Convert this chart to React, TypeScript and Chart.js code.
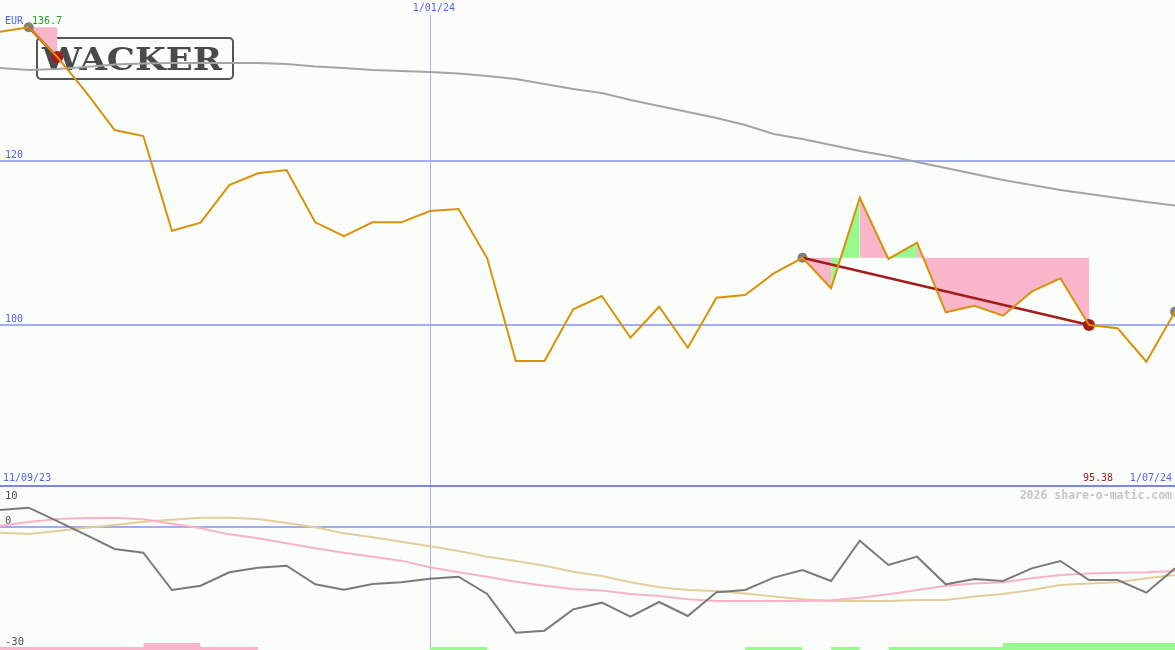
import React, { useEffect, useRef } from "react";
import { Chart, registerables } from "chart.js";

Chart.register(...registerables);

// ---------- DATA ----------
const weekCount = 42;
const dateMarkerIndex = 15; // 1/01/24
const startDateLabel = "11/09/23";
const endDateLabel = "1/07/24";
const markerDateLabel = "1/01/24";
const currencyLabel = "EUR";
const maxPriceLabel = "136.7";
const minPriceLabel = "95.38";
const creditLabel = "2026 share-o-matic.com";
const logoText = "WACKER";

const priceGridLevels = [100, 120];
const oscillatorZeroLevel = 0;
const oscillatorTickLabels = ["10", "0", "-30"];

const priceWeekly = [
  135.77, 136.3, 132.68, 128.41, 123.78, 123.05, 111.5, 112.48, 117.07, 118.5,
  118.9, 112.52, 110.85, 112.52, 112.52, 113.9, 114.15, 108.13, 95.6, 95.6,
  101.91, 103.54, 98.45, 102.23, 97.23, 103.33, 103.66, 106.3, 108.2, 104.48,
  115.52, 108.05, 110.04, 101.55, 102.35, 101.13, 104.06, 105.7, 100.0, 99.6,
  95.52, 101.62,
];

const movingAverage = [
  131.34, 131.1, 131.22, 131.46, 131.77, 131.89, 131.95, 131.95, 131.95, 131.95,
  131.83, 131.52, 131.34, 131.1, 130.98, 130.85, 130.67, 130.37, 130.0, 129.39,
  128.78, 128.29, 127.44, 126.71, 125.98, 125.24, 124.39, 123.29, 122.68, 121.95,
  121.22, 120.61, 119.88, 119.15, 118.41, 117.68, 117.07, 116.46, 115.98, 115.49,
  115.0, 114.57,
];

const oscillator = [
  4.28, 4.85, 1.5, -2.0, -5.53, -6.46, -15.85, -14.76, -11.4, -10.23,
  -9.73, -14.4, -15.77, -14.34, -13.92, -13.0, -12.5, -16.85, -26.58, -26.07,
  -20.71, -19.03, -22.55, -18.86, -22.38, -16.43, -15.85, -12.74, -10.81, -13.58,
  -3.44, -9.56, -7.46, -14.42, -13.08, -13.58, -10.4, -8.55, -13.33, -13.33,
  -16.51, -10.4,
];

const oscillatorAverage = [
  0.33, 1.26, 2.0, 2.26, 2.34, 1.93, 0.84, -0.34, -1.85, -2.85,
  -4.1, -5.36, -6.45, -7.46, -8.46, -10.1, -11.4, -12.5, -13.75, -14.75,
  -15.6, -16.0, -16.85, -17.35, -18.2, -18.6, -18.6, -18.6, -18.6, -18.45,
  -17.77, -16.94, -15.85, -14.75, -14.2, -13.9, -12.9, -12.07, -11.7, -11.5,
  -11.4, -11.07,
];

const oscillatorSignal = [
  -1.43, -1.76, -1.0, -0.17, 0.5, 1.34, 1.85, 2.34, 2.34, 2.0,
  1.0, -0.08, -1.6, -2.6, -3.7, -4.86, -6.04, -7.46, -8.55, -9.73,
  -11.24, -12.3, -13.9, -15.17, -15.85, -16.1, -16.7, -17.5, -18.2, -18.6,
  -18.6, -18.6, -18.36, -18.36, -17.5, -16.85, -15.85, -14.6, -14.2, -13.9,
  -12.9, -12.07,
];

// closed signals: start week, end week, and per-segment rising flags
const signalStarts = [1, 28];
const signalEnds = [2, 38];
const signalSegmentRising = [
  [false],
  [false, true, false, true, false, false, false, false, false, false],
];
const openSignalStarts = [41];

// bottom signal bars [fromWeek, toWeek]
const sellBarsWeak = [[0, 9]];
const sellBarsStrong = [[5, 7]];
const buyBarsWeak = [[15, 17], [26, 28], [29, 30], [31, 35]];
const buyBarsStrong = [[35, 41]];
const weakBarLevel = -30.18;
const strongBarLevel = -29.18;

// ---------- STYLE ----------
const BG = "#fbfdfa";
const BLUE_TEXT = "#5563ee";
const GRID_BLUE = "#a3acf2";
const AXIS_BLUE = "#7a86ea";
const VLINE = "#aab1ee";
const PRICE = "#d8920a";
const MA_GRAY = "#a4a4a4";
const TREND_RED = "#a51c1c";
const DOT_GRAY = "#808080";
const FILL_DOWN = "#f9b5c9";
const FILL_UP = "#98f98f";
const MONO = '"DejaVu Sans Mono", "Liberation Mono", monospace';

const W = 1175;
const MAIN_H = 488;
const LOW_H = 162;

const xy = (arr: number[]) => arr.map((v, i) => ({ x: i, y: v }));

const bgPlugin = {
  id: "bgfill",
  beforeDraw(chart: any) {
    const { ctx } = chart;
    ctx.save();
    ctx.fillStyle = BG;
    ctx.fillRect(0, 0, chart.width, chart.height);
    ctx.restore();
  },
};

const mainDecor = {
  id: "mainDecor",
  beforeDatasetsDraw(chart: any) {
    const { ctx, scales } = chart;
    const xs = scales.x;
    const ys = scales.y;
    ctx.save();
    // horizontal grid
    ctx.strokeStyle = GRID_BLUE;
    ctx.lineWidth = 2;
    priceGridLevels.forEach((lv) => {
      const y = Math.round(ys.getPixelForValue(lv));
      ctx.beginPath();
      ctx.moveTo(0, y);
      ctx.lineTo(chart.width, y);
      ctx.stroke();
    });
    // vertical date marker
    const vx = Math.round(xs.getPixelForValue(dateMarkerIndex)) + 0.5;
    ctx.strokeStyle = VLINE;
    ctx.lineWidth = 1;
    ctx.beginPath();
    ctx.moveTo(vx, 15);
    ctx.lineTo(vx, chart.height);
    ctx.stroke();
    // logo
    ctx.strokeStyle = "#555555";
    ctx.lineWidth = 2;
    ctx.beginPath();
    (ctx as any).roundRect(37, 38, 196, 41, 4);
    ctx.stroke();
    ctx.fillStyle = "#4a4a4a";
    ctx.font = 'bold 31px "DejaVu Serif", "Liberation Serif", serif';
    ctx.textBaseline = "alphabetic";
    ctx.textAlign = "left";
    const tw = ctx.measureText(logoText).width;
    ctx.translate(42, 70);
    ctx.scale(180 / tw, 1);
    ctx.fillText(logoText, 0, 0);
    ctx.restore();
    // bottom axis line
    ctx.save();
    ctx.strokeStyle = AXIS_BLUE;
    ctx.lineWidth = 2;
    ctx.beginPath();
    ctx.moveTo(0, chart.height - 2);
    ctx.lineTo(chart.width, chart.height - 2);
    ctx.stroke();
    ctx.restore();
  },
  afterDatasetsDraw(chart: any) {
    const { ctx, scales } = chart;
    const xs = scales.x;
    const ys = scales.y;
    ctx.save();
    ctx.font = `10px ${MONO}`;
    ctx.textBaseline = "middle";
    ctx.textAlign = "left";
    ctx.fillStyle = BLUE_TEXT;
    ctx.fillText(currencyLabel, 5, 21);
    ctx.fillStyle = "#22a022";
    ctx.fillText(maxPriceLabel, 32, 21);
    ctx.fillStyle = BLUE_TEXT;
    priceGridLevels.forEach((lv) => {
      ctx.fillText(String(lv), 5, ys.getPixelForValue(lv) - 5.5);
    });
    ctx.textAlign = "center";
    ctx.fillText(markerDateLabel, xs.getPixelForValue(dateMarkerIndex) + 4, 8.5);
    ctx.textAlign = "left";
    ctx.fillText(startDateLabel, 3, 478.5);
    ctx.textAlign = "right";
    ctx.fillText(endDateLabel, 1172, 478.5);
    ctx.fillStyle = TREND_RED;
    ctx.fillText(minPriceLabel, 1113, 478.5);
    ctx.restore();
  },
};

const lowDecor = {
  id: "lowDecor",
  beforeDatasetsDraw(chart: any) {
    const { ctx, scales } = chart;
    const xs = scales.x;
    const ys = scales.y;
    ctx.save();
    const zy = Math.round(ys.getPixelForValue(oscillatorZeroLevel));
    ctx.strokeStyle = GRID_BLUE;
    ctx.lineWidth = 2;
    ctx.beginPath();
    ctx.moveTo(0, zy);
    ctx.lineTo(chart.width, zy);
    ctx.stroke();
    const vx = Math.round(xs.getPixelForValue(dateMarkerIndex)) + 0.5;
    ctx.strokeStyle = VLINE;
    ctx.lineWidth = 1;
    ctx.beginPath();
    ctx.moveTo(vx, 0);
    ctx.lineTo(vx, chart.height);
    ctx.stroke();
    ctx.font = `bold 11.5px ${MONO}`;
    ctx.fillStyle = "#c6c6c6";
    ctx.textAlign = "right";
    ctx.textBaseline = "middle";
    ctx.fillText(creditLabel, 1172, 8);
    ctx.font = `10.5px ${MONO}`;
    ctx.fillStyle = "#505050";
    ctx.textAlign = "left";
    ctx.fillText(oscillatorTickLabels[0], 5, 8);
    ctx.fillText(oscillatorTickLabels[1], 5, zy - 6);
    ctx.fillText(oscillatorTickLabels[2], 5, chart.height - 8);
    ctx.restore();
  },
};

function baseOptions(yMin: number, yMax: number): any {
  return {
    responsive: false,
    animation: false,
    devicePixelRatio: 1,
    events: [],
    layout: { padding: 0, autoPadding: false },
    plugins: { legend: { display: false }, tooltip: { enabled: false } },
    scales: {
      x: { type: "linear", min: 0, max: weekCount - 1, display: false },
      y: { type: "linear", min: yMin, max: yMax, display: false },
    },
    elements: { line: { tension: 0 }, point: { radius: 0 } },
  };
}

export default function App() {
  const mainRef = useRef<HTMLCanvasElement>(null);
  const lowRef = useRef<HTMLCanvasElement>(null);

  useEffect(() => {
    const datasets: any[] = [];
    // signal fills
    signalStarts.forEach((s, k) => {
      const e = signalEnds[k];
      const pts: any[] = [];
      for (let i = s; i <= e; i++) pts.push({ x: i, y: priceWeekly[i] });
      datasets.push({
        type: "line",
        data: pts,
        borderColor: "rgba(0,0,0,0)",
        borderWidth: 0,
        pointRadius: 0,
        fill: { value: priceWeekly[s] },
        backgroundColor: FILL_DOWN,
        segment: {
          backgroundColor: (c: any) =>
            signalSegmentRising[k][c.p0DataIndex] ? FILL_UP : FILL_DOWN,
        },
        order: 10,
      });
    });
    datasets.push({
      type: "line",
      data: xy(movingAverage),
      borderColor: MA_GRAY,
      borderWidth: 2,
      pointRadius: 0,
      fill: false,
      order: 9,
    });
    // dots
    const dotPts: any[] = [];
    const dotColors: string[] = [];
    const dotRadii: number[] = [];
    signalStarts.forEach((s) => {
      dotPts.push({ x: s, y: priceWeekly[s] });
      dotColors.push(DOT_GRAY);
      dotRadii.push(5);
    });
    openSignalStarts.forEach((s) => {
      dotPts.push({ x: s, y: priceWeekly[s] });
      dotColors.push(DOT_GRAY);
      dotRadii.push(5);
    });
    signalEnds.forEach((s) => {
      dotPts.push({ x: s, y: priceWeekly[s] });
      dotColors.push(TREND_RED);
      dotRadii.push(6);
    });
    datasets.push({
      type: "line",
      data: dotPts,
      showLine: false,
      pointRadius: dotRadii,
      pointBackgroundColor: dotColors,
      pointBorderWidth: 0,
      pointBorderColor: dotColors,
      order: 5,
    });
    // trend lines
    signalStarts.forEach((s, k) => {
      const e = signalEnds[k];
      datasets.push({
        type: "line",
        data: [
          { x: s, y: priceWeekly[s] },
          { x: e, y: priceWeekly[e] },
        ],
        borderColor: TREND_RED,
        borderWidth: 2.5,
        pointRadius: 0,
        fill: false,
        order: 3,
      });
    });
    datasets.push({
      type: "line",
      data: xy(priceWeekly),
      borderColor: PRICE,
      borderWidth: 2,
      pointRadius: 0,
      fill: false,
      order: 0,
    });

    const mainChart = new Chart(mainRef.current as HTMLCanvasElement, {
      type: "line",
      data: { datasets },
      options: baseOptions(80.122, 139.634),
      plugins: [bgPlugin, mainDecor],
    } as any);

    const lowSets: any[] = [];
    const addBars = (ranges: number[][], level: number, color: string) => {
      ranges.forEach(([a, b]) => {
        lowSets.push({
          type: "line",
          data: [
            { x: a, y: level },
            { x: b, y: level },
          ],
          borderColor: "rgba(0,0,0,0)",
          borderWidth: 0,
          pointRadius: 0,
          backgroundColor: color,
          fill: "start",
          order: 10,
        });
      });
    };
    addBars(sellBarsWeak, weakBarLevel, FILL_DOWN);
    addBars(sellBarsStrong, strongBarLevel, FILL_DOWN);
    addBars(buyBarsWeak, weakBarLevel, FILL_UP);
    addBars(buyBarsStrong, strongBarLevel, FILL_UP);
    lowSets.push({
      type: "line",
      data: xy(oscillatorSignal),
      borderColor: "#e3cd9b",
      borderWidth: 2,
      pointRadius: 0,
      fill: false,
      order: 4,
    });
    lowSets.push({
      type: "line",
      data: xy(oscillatorAverage),
      borderColor: "#f9b2c8",
      borderWidth: 2,
      pointRadius: 0,
      fill: false,
      order: 3,
    });
    lowSets.push({
      type: "line",
      data: xy(oscillator),
      borderColor: "#7a7a7a",
      borderWidth: 2,
      pointRadius: 0,
      fill: false,
      order: 1,
    });

    const lowChart = new Chart(lowRef.current as HTMLCanvasElement, {
      type: "line",
      data: { datasets: lowSets },
      options: baseOptions(-30.936, 9.809),
      plugins: [bgPlugin, lowDecor],
    } as any);

    return () => {
      mainChart.destroy();
      lowChart.destroy();
    };
  }, []);

  return (
    <div
      style={{
        position: "fixed",
        left: 0,
        top: 0,
        width: W,
        height: MAIN_H + LOW_H,
        background: BG,
      }}
    >
      <canvas
        ref={mainRef}
        width={W}
        height={MAIN_H}
        style={{ position: "absolute", left: 0, top: 0, width: W, height: MAIN_H, display: "block" }}
      />
      <canvas
        ref={lowRef}
        width={W}
        height={LOW_H}
        style={{ position: "absolute", left: 0, top: MAIN_H, width: W, height: LOW_H, display: "block" }}
      />
    </div>
  );
}
